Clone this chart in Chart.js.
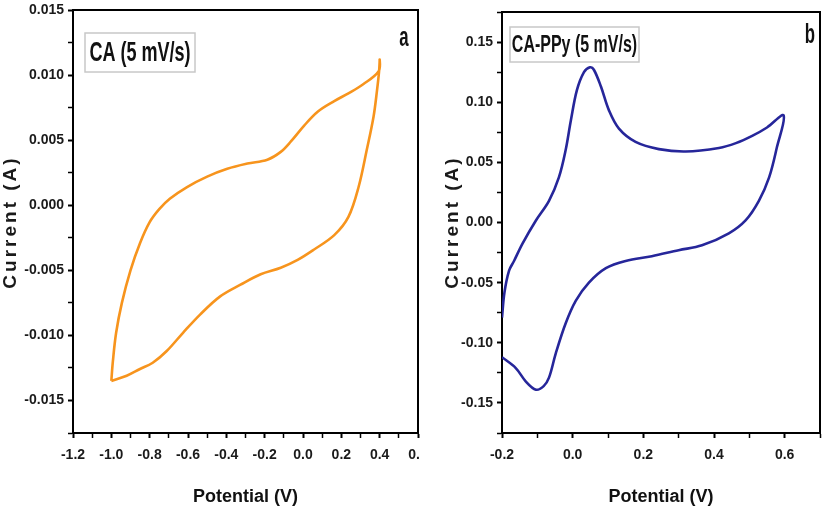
<!DOCTYPE html>
<html><head><meta charset="utf-8">
<script src="https://cdn.jsdelivr.net/npm/chart.js@4.4.1/dist/chart.umd.min.js"></script>
<style>
html,body{margin:0;padding:0;background:#fff;width:823px;height:509px;overflow:hidden}
.wrap{position:absolute;top:0;height:509px}
</style></head><body>
<div class="wrap" style="left:0;width:420px"><canvas id="ca"></canvas></div>
<div class="wrap" style="left:420px;width:403px"><canvas id="cb"></canvas></div>
<script>
// ---- Panel a: CA (5 mV/s) ----
const caPotential = [-1.0,-0.92,-0.853,-0.784,-0.711,-0.626,-0.537,-0.432,-0.326,-0.221,-0.116,-0.028,0.058,0.163,0.237,0.29,0.332,0.368,0.386,0.397,0.400,
  0.395,0.314,0.237,0.163,0.078,0.005,-0.063,-0.116,-0.186,-0.29,-0.395,-0.50,-0.605,-0.695,-0.75,-0.80,-0.85,-0.90,-0.945,-0.975,-0.992,-1.0];
const caCurrent = [-0.0135,-0.0131,-0.0126,-0.0121,-0.0112,-0.0098,-0.0084,-0.0070,-0.0061,-0.0053,-0.0048,-0.0042,-0.0034,-0.0023,-0.0009,0.0014,0.0042,0.0068,0.0088,0.0103,0.0112,
  0.0103,0.0093,0.0086,0.0080,0.0072,0.0061,0.0049,0.0041,0.0035,0.0032,0.0028,0.0022,0.0014,0.0005,-0.0003,-0.0013,-0.0029,-0.0050,-0.0075,-0.0098,-0.0120,-0.0135];
const caXTickLabels = ['-1.2','-1.0','-0.8','-0.6','-0.4','-0.2','0.0','0.2','0.4','0.6'];
const caYTickLabels = ['-0.015','-0.010','-0.005','0.000','0.005','0.010','0.015'];

// ---- Panel b: CA-PPy (5 mV/s) ----
const ppyPotential = [-0.2,-0.161,-0.133,-0.104,-0.082,-0.067,-0.048,-0.02,0.009,0.046,0.094,0.15,0.224,0.30,0.366,0.442,0.49,0.527,0.556,0.578,0.597,
  0.55,0.508,0.462,0.414,0.32,0.244,0.178,0.131,0.103,0.08,0.06,0.049,0.032,0.012,-0.005,-0.02,-0.039,-0.067,-0.104,-0.142,-0.166,-0.18,-0.193,-0.2];
const ppyCurrent = [-0.112,-0.121,-0.132,-0.139,-0.136,-0.129,-0.109,-0.084,-0.065,-0.050,-0.038,-0.032,-0.028,-0.023,-0.019,-0.009,0.002,0.018,0.0375,0.0625,0.089,
  0.079,0.072,0.066,0.062,0.059,0.061,0.067,0.078,0.093,0.113,0.127,0.129,0.125,0.110,0.085,0.060,0.0375,0.018,0.0017,-0.0175,-0.032,-0.040,-0.058,-0.079];
const ppyXTickLabels = ['-0.2','0.0','0.2','0.4','0.6'];
const ppyYTickLabels = ['-0.15','-0.10','-0.05','0.00','0.05','0.10','0.15'];

const SANS = "'Liberation Sans',Arial,sans-serif";

function labeler(list){
  const nums = list.map(Number);
  return function(v){
    for(let i=0;i<nums.length;i++){ if(Math.abs(v-nums[i])<1e-9) return list[i]; }
    return '';
  };
}
function pts(xs,ys){ return xs.map((x,i)=>({x:x,y:ys[i]})); }

const framePlugin = {
  id:'frame',
  beforeDatasetsDraw(chart){
    const {ctx,chartArea:a} = chart;
    ctx.save(); ctx.strokeStyle='#000'; ctx.lineWidth=2;
    ctx.beginPath(); ctx.moveTo(a.left,a.top); ctx.lineTo(a.right,a.top); ctx.lineTo(a.right,a.bottom); ctx.stroke();
    ctx.restore();
  },
  afterDraw(chart){
    const o = chart.options.plugins.frame;
    const {ctx} = chart;
    ctx.save();
    ctx.translate(o.yTitleX, o.yTitleY); ctx.rotate(-Math.PI/2);
    ctx.font = 'bold 19px '+SANS; ctx.fillStyle='#1a1a1a';
    ctx.textAlign='center'; ctx.textBaseline='middle';
    try{ ctx.letterSpacing='3px'; }catch(e){}
    ctx.fillText('Current (A)',0,0);
    ctx.restore();
    ctx.save();
    const b=o.box;
    ctx.fillStyle='#fff'; ctx.fillRect(b.x,b.y,b.w,b.h);
    ctx.strokeStyle='#c8c8c8'; ctx.lineWidth=1.5; ctx.strokeRect(b.x,b.y,b.w,b.h);
    ctx.fillStyle='#111'; ctx.textAlign='center'; ctx.textBaseline='middle';
    ctx.translate(b.x+b.w/2, b.y+b.h/2+1); ctx.scale(0.82,1.25);
    ctx.font='bold '+b.size+'px '+SANS;
    ctx.fillText(b.text,0,0);
    ctx.restore();
    ctx.save();
    ctx.fillStyle='#111'; ctx.textAlign='center'; ctx.textBaseline='alphabetic';
    ctx.translate(o.letter.x,o.letter.y); ctx.scale(0.8,1.35);
    ctx.font='bold 21px '+SANS;
    ctx.fillText(o.letter.text,0,0);
    ctx.restore();
  }
};

function makeChart(id, cfg){
  const tickFont = {family:SANS, size:14, weight:'bold'};
  const gridCommon = ()=>({
    drawOnChartArea:false, drawTicks:true, tickLength:5, tickColor:'#000',
    tickWidth:(c)=> (c.tick && c.tick.label!=='' ? 2 : 1.5)
  });
  return new Chart(document.getElementById(id), {
    type:'scatter',
    data:{datasets:[{
      data: pts(cfg.xs, cfg.ys),
      showLine:true, borderColor:cfg.color, borderWidth:2.6, pointRadius:0,
      tension:0.35, fill:false
    }]},
    options:{
      responsive:true, maintainAspectRatio:false, animation:false,
      layout:{padding:{left:0,right:cfg.padRight,top:cfg.padTop,bottom:0}},
      plugins:{legend:{display:false}, tooltip:{enabled:false},
        frame:{yTitleX:cfg.yTitleX, yTitleY:222, box:cfg.box, letter:cfg.letter}},
      scales:{
        x:{type:'linear', position:'bottom', min:cfg.xmin, max:cfg.xmax,
          ticks:{stepSize:cfg.xstep, autoSkip:false, maxRotation:0, minRotation:0, padding:9,
            color:'#1a1a1a', font:tickFont, callback:labeler(cfg.xLabels)},
          grid:gridCommon(), border:{display:true,color:'#000',width:2},
          title:{display:true, text:'Potential (V)', color:'#111',
            font:{family:SANS,size:18,weight:'bold'}, padding:{top:0,bottom:1}},
          afterFit(s){ s.height=76; s.paddingLeft=0; s.paddingRight=0; }
        },
        y:{type:'linear', min:cfg.ymin, max:cfg.ymax,
          ticks:{stepSize:cfg.ystep, autoSkip:false, padding:4,
            color:'#1a1a1a', font:tickFont, callback:labeler(cfg.yLabels)},
          grid:gridCommon(), border:{display:true,color:'#000',width:2},
          afterFit(s){ s.width=cfg.yWidth; s.paddingTop=0; s.paddingBottom=0; }
        }
      }
    },
    plugins:[framePlugin]
  });
}

makeChart('ca', {
  xs:caPotential, ys:caCurrent, color:'#F7941D',
  xmin:-1.2, xmax:0.6, xstep:0.1, ymin:-0.0175, ymax:0.015, ystep:0.0025,
  xLabels:caXTickLabels, yLabels:caYTickLabels,
  yWidth:73, padRight:2, padTop:10, yTitleX:11,
  box:{x:85,y:33,w:110,h:39,text:'CA (5 mV/s)',size:22},
  letter:{x:404,y:46,text:'a'}
});
makeChart('cb', {
  xs:ppyPotential, ys:ppyCurrent, color:'#26269A',
  xmin:-0.2, xmax:0.7, xstep:0.1, ymin:-0.175, ymax:0.175, ystep:0.025,
  xLabels:ppyXTickLabels, yLabels:ppyYTickLabels,
  yWidth:82, padRight:3, padTop:12, yTitleX:33,
  box:{x:90,y:27,w:129,h:35,text:'CA-PPy (5 mV/s)',size:19.5},
  letter:{x:390,y:43,text:'b'}
});
</script>
</body></html>
